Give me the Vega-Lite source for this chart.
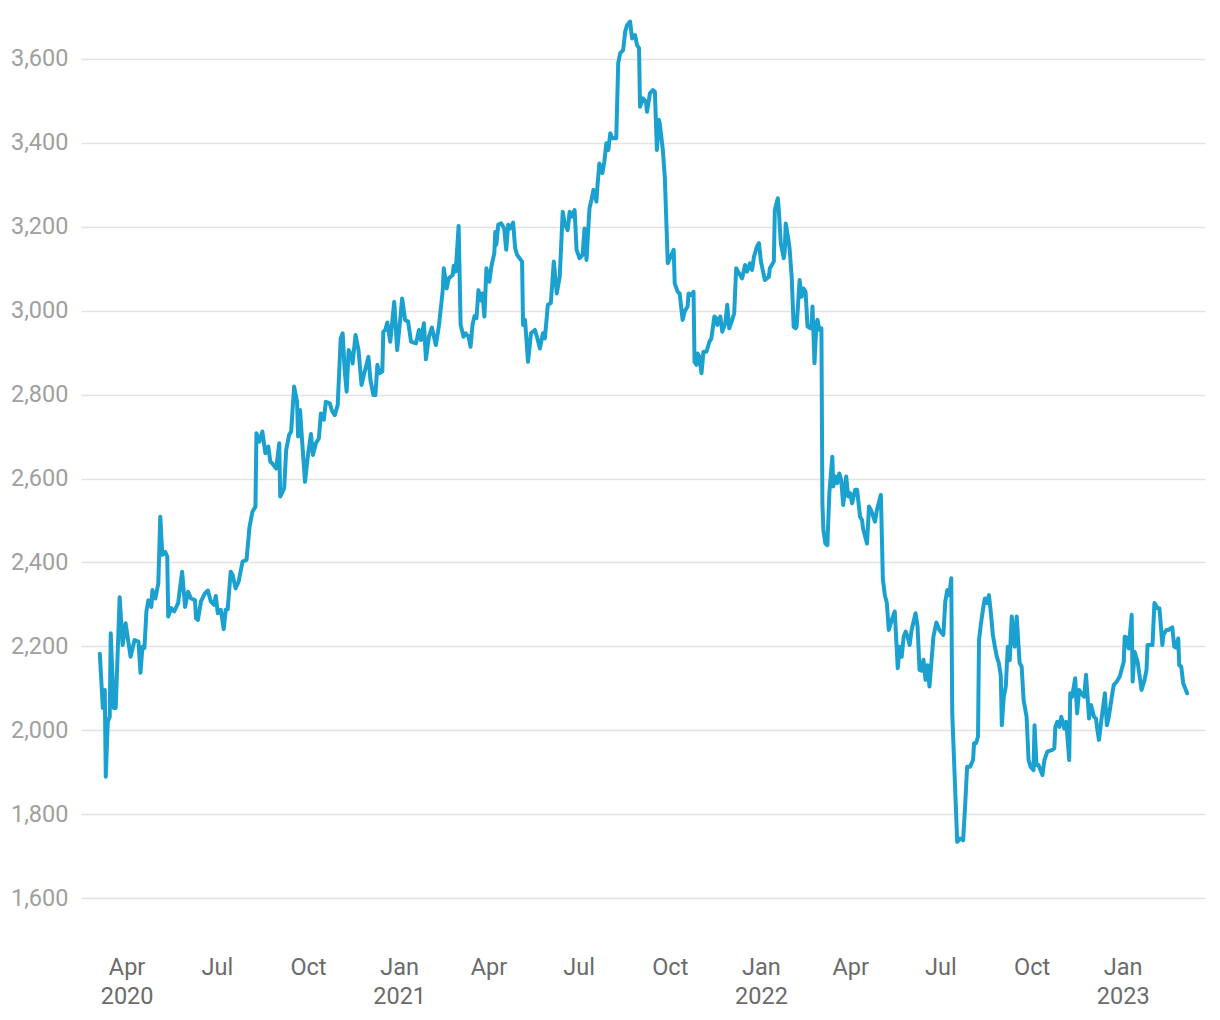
{
  "$schema": "https://vega.github.io/schema/vega-lite/v6.json",
  "width": 1124,
  "height": 923,
  "autosize": {"type": "none"},
  "padding": {"left": 81, "top": 17, "right": 15, "bottom": 80},
  "background": "white",
  "config": {
    "view": {"stroke": null},
    "font": "Roboto",
    "axis": {"labelFont": "Roboto", "labelFontSize": 23.5, "ticks": false, "tickSize": 0, "domain": false, "title": null}
  },
  "data": {
    "values": [
      {"d":"2020-03-05","v":2182},{"d":"2020-03-08","v":2053},{"d":"2020-03-10","v":2096},{"d":"2020-03-11","v":1889},{"d":"2020-03-13","v":2020},{"d":"2020-03-15","v":2032},{"d":"2020-03-16","v":2231},{"d":"2020-03-19","v":2053},{"d":"2020-03-21","v":2053},{"d":"2020-03-25","v":2317},{"d":"2020-03-28","v":2203},{"d":"2020-03-31","v":2255},
      {"d":"2020-04-05","v":2175},{"d":"2020-04-09","v":2215},{"d":"2020-04-13","v":2211},{"d":"2020-04-15","v":2137},{"d":"2020-04-17","v":2199},{"d":"2020-04-19","v":2196},{"d":"2020-04-21","v":2283},{"d":"2020-04-23","v":2310},{"d":"2020-04-26","v":2294},{"d":"2020-04-27","v":2334},{"d":"2020-04-30","v":2314},
      {"d":"2020-05-03","v":2350},{"d":"2020-05-05","v":2509},{"d":"2020-05-07","v":2418},{"d":"2020-05-10","v":2425},{"d":"2020-05-12","v":2414},{"d":"2020-05-13","v":2271},{"d":"2020-05-16","v":2291},{"d":"2020-05-19","v":2283},{"d":"2020-05-23","v":2303},{"d":"2020-05-27","v":2378},{"d":"2020-05-30","v":2294},
      {"d":"2020-06-02","v":2330},{"d":"2020-06-05","v":2314},{"d":"2020-06-09","v":2310},{"d":"2020-06-10","v":2267},{"d":"2020-06-12","v":2263},{"d":"2020-06-15","v":2307},{"d":"2020-06-19","v":2326},{"d":"2020-06-22","v":2333},{"d":"2020-06-25","v":2307},{"d":"2020-06-28","v":2299},{"d":"2020-06-30","v":2320},
      {"d":"2020-07-02","v":2279},{"d":"2020-07-05","v":2287},{"d":"2020-07-08","v":2241},{"d":"2020-07-10","v":2287},{"d":"2020-07-12","v":2288},{"d":"2020-07-15","v":2378},{"d":"2020-07-17","v":2370},{"d":"2020-07-20","v":2338},{"d":"2020-07-23","v":2354},{"d":"2020-07-27","v":2402},{"d":"2020-07-31","v":2406},
      {"d":"2020-08-03","v":2484},{"d":"2020-08-06","v":2521},{"d":"2020-08-09","v":2533},{"d":"2020-08-10","v":2708},{"d":"2020-08-13","v":2688},{"d":"2020-08-16","v":2712},{"d":"2020-08-19","v":2660},{"d":"2020-08-22","v":2676},{"d":"2020-08-24","v":2640},{"d":"2020-08-26","v":2636},{"d":"2020-08-30","v":2624},
      {"d":"2020-09-02","v":2684},{"d":"2020-09-03","v":2557},{"d":"2020-09-07","v":2577},{"d":"2020-09-09","v":2668},{"d":"2020-09-12","v":2704},{"d":"2020-09-14","v":2712},{"d":"2020-09-17","v":2819},{"d":"2020-09-20","v":2783},{"d":"2020-09-21","v":2700},{"d":"2020-09-23","v":2763},{"d":"2020-09-25","v":2692},{"d":"2020-09-28","v":2592},
      {"d":"2020-10-01","v":2656},{"d":"2020-10-04","v":2706},{"d":"2020-10-06","v":2656},{"d":"2020-10-09","v":2684},{"d":"2020-10-12","v":2696},{"d":"2020-10-14","v":2755},{"d":"2020-10-17","v":2740},{"d":"2020-10-19","v":2783},{"d":"2020-10-23","v":2779},{"d":"2020-10-25","v":2763},{"d":"2020-10-28","v":2751},{"d":"2020-10-31","v":2775},
      {"d":"2020-11-03","v":2934},{"d":"2020-11-05","v":2946},{"d":"2020-11-07","v":2859},{"d":"2020-11-09","v":2807},{"d":"2020-11-11","v":2906},{"d":"2020-11-14","v":2894},{"d":"2020-11-15","v":2874},{"d":"2020-11-18","v":2942},{"d":"2020-11-21","v":2906},{"d":"2020-11-24","v":2823},{"d":"2020-11-26","v":2843},{"d":"2020-11-29","v":2871},
      {"d":"2020-12-01","v":2890},{"d":"2020-12-03","v":2835},{"d":"2020-12-06","v":2799},{"d":"2020-12-08","v":2799},{"d":"2020-12-10","v":2871},{"d":"2020-12-12","v":2851},{"d":"2020-12-15","v":2855},{"d":"2020-12-16","v":2950},{"d":"2020-12-18","v":2954},{"d":"2020-12-20","v":2972},{"d":"2020-12-23","v":2926},{"d":"2020-12-27","v":3021},{"d":"2020-12-30","v":2906},
      {"d":"2021-01-02","v":2978},{"d":"2021-01-04","v":3029},{"d":"2021-01-07","v":2978},{"d":"2021-01-10","v":2974},{"d":"2021-01-13","v":2926},{"d":"2021-01-18","v":2922},{"d":"2021-01-21","v":2954},{"d":"2021-01-23","v":2930},{"d":"2021-01-26","v":2970},{"d":"2021-01-28","v":2884},{"d":"2021-01-31","v":2938},
      {"d":"2021-02-03","v":2960},{"d":"2021-02-07","v":2918},{"d":"2021-02-10","v":2962},{"d":"2021-02-14","v":3049},{"d":"2021-02-15","v":3101},{"d":"2021-02-18","v":3053},{"d":"2021-02-20","v":3077},{"d":"2021-02-24","v":3085},{"d":"2021-02-25","v":3107},{"d":"2021-02-27","v":3093},
      {"d":"2021-03-02","v":3202},{"d":"2021-03-04","v":2966},{"d":"2021-03-07","v":2938},{"d":"2021-03-09","v":2946},{"d":"2021-03-12","v":2938},{"d":"2021-03-14","v":2914},{"d":"2021-03-16","v":2966},{"d":"2021-03-18","v":2987},{"d":"2021-03-20","v":2982},{"d":"2021-03-22","v":3049},{"d":"2021-03-24","v":3025},{"d":"2021-03-26","v":3041},{"d":"2021-03-28","v":2986},{"d":"2021-03-30","v":3101},
      {"d":"2021-04-02","v":3069},{"d":"2021-04-04","v":3105},{"d":"2021-04-07","v":3137},{"d":"2021-04-08","v":3188},{"d":"2021-04-09","v":3157},{"d":"2021-04-11","v":3205},{"d":"2021-04-14","v":3208},{"d":"2021-04-17","v":3196},{"d":"2021-04-19","v":3145},{"d":"2021-04-21","v":3205},{"d":"2021-04-23","v":3196},{"d":"2021-04-26","v":3210},{"d":"2021-04-28","v":3149},{"d":"2021-04-30","v":3133},
      {"d":"2021-05-05","v":3117},{"d":"2021-05-06","v":2966},{"d":"2021-05-08","v":2978},{"d":"2021-05-11","v":2878},{"d":"2021-05-14","v":2946},{"d":"2021-05-18","v":2954},{"d":"2021-05-20","v":2938},{"d":"2021-05-23","v":2910},{"d":"2021-05-26","v":2946},{"d":"2021-05-28","v":2934},{"d":"2021-05-31","v":3014},
      {"d":"2021-06-03","v":3018},{"d":"2021-06-06","v":3117},{"d":"2021-06-09","v":3041},{"d":"2021-06-12","v":3081},{"d":"2021-06-15","v":3236},{"d":"2021-06-17","v":3208},{"d":"2021-06-20","v":3192},{"d":"2021-06-22","v":3236},{"d":"2021-06-24","v":3224},{"d":"2021-06-27","v":3240},{"d":"2021-06-29","v":3145},
      {"d":"2021-07-02","v":3125},{"d":"2021-07-05","v":3133},{"d":"2021-07-07","v":3196},{"d":"2021-07-09","v":3121},{"d":"2021-07-12","v":3244},{"d":"2021-07-14","v":3264},{"d":"2021-07-16","v":3288},{"d":"2021-07-19","v":3260},{"d":"2021-07-20","v":3296},{"d":"2021-07-22","v":3351},{"d":"2021-07-25","v":3328},{"d":"2021-07-27","v":3355},{"d":"2021-07-29","v":3399},{"d":"2021-07-31","v":3383},
      {"d":"2021-08-02","v":3423},{"d":"2021-08-04","v":3411},{"d":"2021-08-08","v":3411},{"d":"2021-08-10","v":3590},{"d":"2021-08-12","v":3614},{"d":"2021-08-15","v":3621},{"d":"2021-08-17","v":3665},{"d":"2021-08-19","v":3681},{"d":"2021-08-22","v":3689},{"d":"2021-08-24","v":3649},{"d":"2021-08-27","v":3657},{"d":"2021-08-29","v":3633},{"d":"2021-08-31","v":3626},
      {"d":"2021-09-01","v":3486},{"d":"2021-09-04","v":3506},{"d":"2021-09-07","v":3498},{"d":"2021-09-08","v":3474},{"d":"2021-09-11","v":3518},{"d":"2021-09-14","v":3526},{"d":"2021-09-16","v":3522},{"d":"2021-09-18","v":3383},{"d":"2021-09-20","v":3455},{"d":"2021-09-21","v":3445},{"d":"2021-09-24","v":3383},{"d":"2021-09-26","v":3319},{"d":"2021-09-29","v":3113},
      {"d":"2021-10-02","v":3129},{"d":"2021-10-05","v":3145},{"d":"2021-10-06","v":3065},{"d":"2021-10-09","v":3045},{"d":"2021-10-11","v":3041},{"d":"2021-10-14","v":2978},{"d":"2021-10-16","v":2998},{"d":"2021-10-19","v":3010},{"d":"2021-10-20","v":3041},{"d":"2021-10-23","v":3037},{"d":"2021-10-25","v":3045},{"d":"2021-10-26","v":2878},{"d":"2021-10-28","v":2871},{"d":"2021-10-29","v":2898},{"d":"2021-10-31","v":2890},
      {"d":"2021-11-02","v":2851},{"d":"2021-11-04","v":2902},{"d":"2021-11-07","v":2902},{"d":"2021-11-10","v":2926},{"d":"2021-11-12","v":2934},{"d":"2021-11-15","v":2986},{"d":"2021-11-17","v":2982},{"d":"2021-11-18","v":2966},{"d":"2021-11-21","v":2986},{"d":"2021-11-23","v":2950},{"d":"2021-11-26","v":2970},{"d":"2021-11-28","v":3014},{"d":"2021-11-30","v":2958},
      {"d":"2021-12-03","v":2978},{"d":"2021-12-05","v":2994},{"d":"2021-12-07","v":3101},{"d":"2021-12-10","v":3089},{"d":"2021-12-13","v":3077},{"d":"2021-12-16","v":3109},{"d":"2021-12-18","v":3093},{"d":"2021-12-21","v":3113},{"d":"2021-12-23","v":3097},{"d":"2021-12-25","v":3129},{"d":"2021-12-28","v":3153},{"d":"2021-12-30","v":3161},
      {"d":"2022-01-01","v":3117},{"d":"2022-01-05","v":3073},{"d":"2022-01-09","v":3081},{"d":"2022-01-10","v":3101},{"d":"2022-01-14","v":3117},{"d":"2022-01-15","v":3240},{"d":"2022-01-18","v":3268},{"d":"2022-01-19","v":3240},{"d":"2022-01-21","v":3161},{"d":"2022-01-24","v":3125},{"d":"2022-01-25","v":3141},{"d":"2022-01-26","v":3208},{"d":"2022-01-29","v":3165},{"d":"2022-01-30","v":3145},
      {"d":"2022-02-01","v":3081},{"d":"2022-02-03","v":2962},{"d":"2022-02-05","v":2958},{"d":"2022-02-06","v":2962},{"d":"2022-02-09","v":3073},{"d":"2022-02-11","v":3033},{"d":"2022-02-13","v":3053},{"d":"2022-02-15","v":3045},{"d":"2022-02-17","v":2962},{"d":"2022-02-20","v":2958},{"d":"2022-02-21","v":2962},{"d":"2022-02-22","v":3010},{"d":"2022-02-24","v":2875},{"d":"2022-02-26","v":2970},{"d":"2022-02-27","v":2978},
      {"d":"2022-03-01","v":2954},{"d":"2022-03-03","v":2958},{"d":"2022-03-04","v":2541},{"d":"2022-03-05","v":2477},{"d":"2022-03-07","v":2445},{"d":"2022-03-09","v":2441},{"d":"2022-03-11","v":2565},{"d":"2022-03-14","v":2652},{"d":"2022-03-15","v":2581},{"d":"2022-03-17","v":2605},{"d":"2022-03-19","v":2589},{"d":"2022-03-21","v":2612},{"d":"2022-03-23","v":2596},{"d":"2022-03-25","v":2537},{"d":"2022-03-28","v":2605},{"d":"2022-03-30","v":2557},
      {"d":"2022-04-01","v":2565},{"d":"2022-04-03","v":2541},{"d":"2022-04-06","v":2573},{"d":"2022-04-08","v":2573},{"d":"2022-04-11","v":2509},{"d":"2022-04-13","v":2501},{"d":"2022-04-14","v":2481},{"d":"2022-04-18","v":2445},{"d":"2022-04-20","v":2533},{"d":"2022-04-22","v":2525},{"d":"2022-04-26","v":2497},{"d":"2022-04-28","v":2525},
      {"d":"2022-05-02","v":2561},{"d":"2022-05-04","v":2360},{"d":"2022-05-06","v":2322},{"d":"2022-05-08","v":2303},{"d":"2022-05-10","v":2239},{"d":"2022-05-13","v":2263},{"d":"2022-05-16","v":2283},{"d":"2022-05-17","v":2239},{"d":"2022-05-19","v":2148},{"d":"2022-05-21","v":2199},{"d":"2022-05-23","v":2175},{"d":"2022-05-25","v":2223},{"d":"2022-05-27","v":2235},{"d":"2022-05-29","v":2223},{"d":"2022-05-31","v":2203},
      {"d":"2022-06-02","v":2239},{"d":"2022-06-06","v":2279},{"d":"2022-06-08","v":2247},{"d":"2022-06-10","v":2144},{"d":"2022-06-12","v":2142},{"d":"2022-06-14","v":2168},{"d":"2022-06-16","v":2120},{"d":"2022-06-18","v":2155},{"d":"2022-06-20","v":2104},{"d":"2022-06-22","v":2163},{"d":"2022-06-24","v":2223},{"d":"2022-06-27","v":2257},{"d":"2022-06-30","v":2239},
      {"d":"2022-07-04","v":2227},{"d":"2022-07-06","v":2307},{"d":"2022-07-08","v":2334},{"d":"2022-07-10","v":2322},{"d":"2022-07-12","v":2362},{"d":"2022-07-13","v":2040},{"d":"2022-07-18","v":1734},{"d":"2022-07-21","v":1742},{"d":"2022-07-24","v":1738},{"d":"2022-07-26","v":1820},{"d":"2022-07-28","v":1913},{"d":"2022-07-31","v":1913},
      {"d":"2022-08-03","v":1929},{"d":"2022-08-04","v":1969},{"d":"2022-08-06","v":1969},{"d":"2022-08-08","v":1985},{"d":"2022-08-09","v":2215},{"d":"2022-08-11","v":2255},{"d":"2022-08-14","v":2303},{"d":"2022-08-15","v":2314},{"d":"2022-08-17","v":2303},{"d":"2022-08-19","v":2322},{"d":"2022-08-21","v":2279},{"d":"2022-08-23","v":2227},{"d":"2022-08-25","v":2199},{"d":"2022-08-27","v":2175},{"d":"2022-08-29","v":2160},{"d":"2022-08-31","v":2130},
      {"d":"2022-09-01","v":2012},{"d":"2022-09-03","v":2080},{"d":"2022-09-05","v":2104},{"d":"2022-09-07","v":2199},{"d":"2022-09-09","v":2167},{"d":"2022-09-11","v":2271},{"d":"2022-09-14","v":2199},{"d":"2022-09-16","v":2271},{"d":"2022-09-19","v":2160},{"d":"2022-09-21","v":2152},{"d":"2022-09-23","v":2072},{"d":"2022-09-26","v":2032},{"d":"2022-09-28","v":1929},{"d":"2022-09-30","v":1913},
      {"d":"2022-10-03","v":1905},{"d":"2022-10-04","v":2012},{"d":"2022-10-06","v":1917},{"d":"2022-10-08","v":1917},{"d":"2022-10-12","v":1893},{"d":"2022-10-14","v":1929},{"d":"2022-10-17","v":1949},{"d":"2022-10-22","v":1953},{"d":"2022-10-24","v":1957},{"d":"2022-10-25","v":2008},{"d":"2022-10-27","v":2020},{"d":"2022-10-29","v":2008},{"d":"2022-10-31","v":2032},
      {"d":"2022-11-03","v":2004},{"d":"2022-11-05","v":2020},{"d":"2022-11-08","v":1929},{"d":"2022-11-09","v":2088},{"d":"2022-11-11","v":2080},{"d":"2022-11-14","v":2124},{"d":"2022-11-16","v":2040},{"d":"2022-11-18","v":2096},{"d":"2022-11-20","v":2088},{"d":"2022-11-23","v":2080},{"d":"2022-11-25","v":2132},{"d":"2022-11-28","v":2028},{"d":"2022-11-30","v":2060},
      {"d":"2022-12-03","v":2032},{"d":"2022-12-05","v":2028},{"d":"2022-12-06","v":2008},{"d":"2022-12-08","v":1977},{"d":"2022-12-10","v":2016},{"d":"2022-12-14","v":2088},{"d":"2022-12-16","v":2012},{"d":"2022-12-18","v":2032},{"d":"2022-12-21","v":2080},{"d":"2022-12-23","v":2108},{"d":"2022-12-26","v":2116},{"d":"2022-12-29","v":2128},
      {"d":"2023-01-02","v":2163},{"d":"2023-01-03","v":2223},{"d":"2023-01-05","v":2221},{"d":"2023-01-07","v":2195},{"d":"2023-01-10","v":2275},{"d":"2023-01-11","v":2116},{"d":"2023-01-13","v":2187},{"d":"2023-01-16","v":2163},{"d":"2023-01-20","v":2096},{"d":"2023-01-23","v":2120},{"d":"2023-01-25","v":2144},{"d":"2023-01-26","v":2203},{"d":"2023-01-29","v":2203},{"d":"2023-01-31","v":2203},
      {"d":"2023-02-02","v":2303},{"d":"2023-02-05","v":2291},{"d":"2023-02-07","v":2291},{"d":"2023-02-08","v":2263},{"d":"2023-02-10","v":2203},{"d":"2023-02-11","v":2227},{"d":"2023-02-14","v":2239},{"d":"2023-02-16","v":2239},{"d":"2023-02-20","v":2245},{"d":"2023-02-22","v":2199},{"d":"2023-02-24","v":2197},{"d":"2023-02-26","v":2219},{"d":"2023-02-27","v":2155},
      {"d":"2023-03-01","v":2152},{"d":"2023-03-03","v":2112},{"d":"2023-03-07","v":2088}
    ]
  },
  "mark": {"type": "line", "color": "#1ba1d0", "strokeWidth": 4, "strokeJoin": "round", "strokeCap": "round"},
  "encoding": {
    "x": {
      "field": "d",
      "type": "temporal",
      "scale": {"domain": [{"year": 2020, "month": 2, "date": 15}, {"year": 2023, "month": 3, "date": 25}]},
      "axis": {
        "grid": false,
        "labelColor": "#6b6b6b",
        "labelPadding": 15,
        "labelLineHeight": 29.5,
        "labelAlign": "center",
        "labelBaseline": "top",
        "values": [
          {"year": 2020, "month": 4, "date": 1}, {"year": 2020, "month": 7, "date": 1}, {"year": 2020, "month": 10, "date": 1},
          {"year": 2021, "month": 1, "date": 1}, {"year": 2021, "month": 4, "date": 1}, {"year": 2021, "month": 7, "date": 1}, {"year": 2021, "month": 10, "date": 1},
          {"year": 2022, "month": 1, "date": 1}, {"year": 2022, "month": 4, "date": 1}, {"year": 2022, "month": 7, "date": 1}, {"year": 2022, "month": 10, "date": 1},
          {"year": 2023, "month": 1, "date": 1}
        ],
        "labelExpr": "(month(datum.value) == 0 || (year(datum.value) == 2020 && month(datum.value) == 3)) ? [timeFormat(datum.value, '%b'), timeFormat(datum.value, '%Y')] : timeFormat(datum.value, '%b')"
      }
    },
    "y": {
      "field": "v",
      "type": "quantitative",
      "scale": {"domain": [1500, 3700], "nice": false, "zero": false},
      "axis": {
        "grid": true,
        "gridColor": "#e3e3e3",
        "gridWidth": 1.5,
        "labelColor": "#a0a0a0",
        "labelPadding": 13,
        "format": ",d",
        "values": [1600, 1800, 2000, 2200, 2400, 2600, 2800, 3000, 3200, 3400, 3600]
      }
    }
  }
}
